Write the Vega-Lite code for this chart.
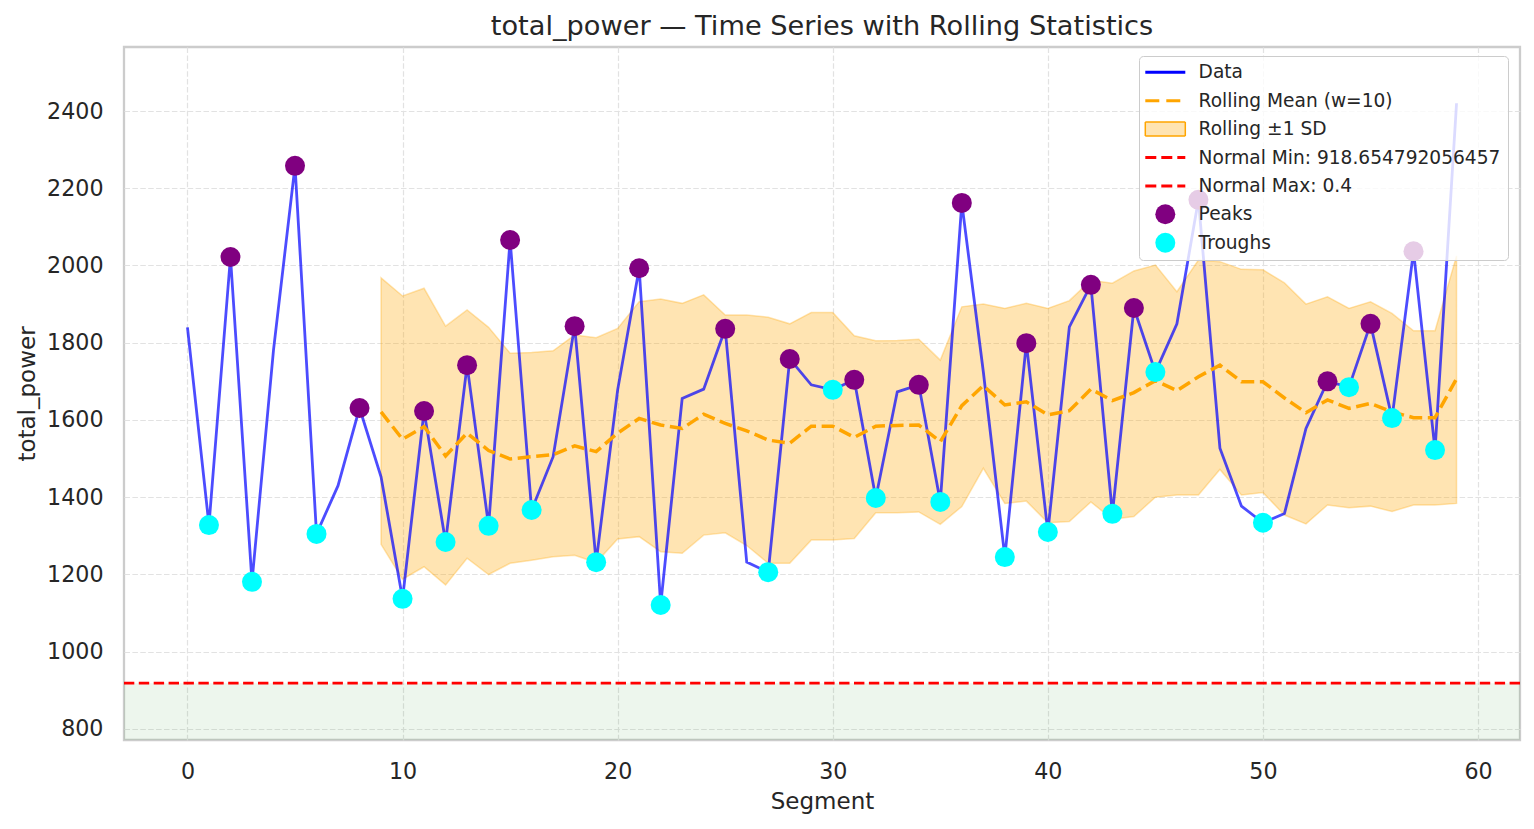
{
  "$schema": "https://vega.github.io/schema/vega-lite/v6.json",
  "autosize": {"type": "none"},
  "width": 1396,
  "height": 693,
  "padding": {"left": 124, "top": 47, "right": 14, "bottom": 89},
  "background": "white",
  "config": {
    "font": "DejaVu Sans",
    "view": {"stroke": "#cccccc", "strokeWidth": 2.3},
    "axis": {
      "domain": false,
      "ticks": false,
      "grid": true,
      "gridColor": "#e2e2e2",
      "gridDash": [5.5, 2.4],
      "gridWidth": 1.2,
      "labelColor": "#262626",
      "titleColor": "#262626",
      "labelFont": "DejaVu Sans",
      "titleFont": "DejaVu Sans",
      "labelFontSize": 22.2,
      "titleFontSize": 23,
      "titleFontWeight": "normal"
    },
    "legend": {
      "title": null,
      "orient": "none",
      "legendX": 1015,
      "legendY": 9,
      "fillColor": "rgba(255,255,255,0.8)",
      "strokeColor": "#cccccc",
      "cornerRadius": 4,
      "padding": 7,
      "labelFont": "DejaVu Sans",
      "labelFontSize": 18.6,
      "labelColor": "#262626",
      "labelLimit": 0,
      "symbolSize": 400,
      "symbolOffset": 10,
      "labelOffset": 24,
      "rowPadding": 7.4,
      "gridAlign": "all"
    }
  },
  "title": {
    "text": "total_power — Time Series with Rolling Statistics",
    "font": "DejaVu Sans",
    "fontSize": 27.2,
    "fontWeight": "normal",
    "color": "#262626",
    "anchor": "middle",
    "baseline": "alphabetic",
    "offset": 12.5,
    "dy": 27.5
  },
  "datasets": {
    "segments": [
      {"seg": 0, "total_power": 1840},
      {"seg": 1, "total_power": 1328, "kind": "Troughs"},
      {"seg": 2, "total_power": 2022, "kind": "Peaks"},
      {"seg": 3, "total_power": 1181, "kind": "Troughs"},
      {"seg": 4, "total_power": 1781},
      {"seg": 5, "total_power": 2258, "kind": "Peaks"},
      {"seg": 6, "total_power": 1305, "kind": "Troughs"},
      {"seg": 7, "total_power": 1430},
      {"seg": 8, "total_power": 1631, "kind": "Peaks"},
      {"seg": 9, "total_power": 1453, "roll_mean": 1621, "roll_lo": 1278, "roll_hi": 1968},
      {"seg": 10, "total_power": 1137, "kind": "Troughs", "roll_mean": 1550, "roll_lo": 1188, "roll_hi": 1921},
      {"seg": 11, "total_power": 1623, "kind": "Peaks", "roll_mean": 1583, "roll_lo": 1220, "roll_hi": 1941},
      {"seg": 12, "total_power": 1284, "kind": "Troughs", "roll_mean": 1507, "roll_lo": 1173, "roll_hi": 1843},
      {"seg": 13, "total_power": 1742, "kind": "Peaks", "roll_mean": 1566, "roll_lo": 1242, "roll_hi": 1885},
      {"seg": 14, "total_power": 1326, "kind": "Troughs", "roll_mean": 1521, "roll_lo": 1200, "roll_hi": 1840},
      {"seg": 15, "total_power": 2066, "kind": "Peaks", "roll_mean": 1499, "roll_lo": 1229, "roll_hi": 1773},
      {"seg": 16, "total_power": 1367, "kind": "Troughs", "roll_mean": 1505, "roll_lo": 1237, "roll_hi": 1775},
      {"seg": 17, "total_power": 1505, "roll_mean": 1510, "roll_lo": 1246, "roll_hi": 1779},
      {"seg": 18, "total_power": 1843, "kind": "Peaks", "roll_mean": 1533, "roll_lo": 1250, "roll_hi": 1820},
      {"seg": 19, "total_power": 1232, "kind": "Troughs", "roll_mean": 1518, "roll_lo": 1231, "roll_hi": 1813},
      {"seg": 20, "total_power": 1678, "roll_mean": 1566, "roll_lo": 1292, "roll_hi": 1837},
      {"seg": 21, "total_power": 1993, "kind": "Peaks", "roll_mean": 1604, "roll_lo": 1298, "roll_hi": 1906},
      {"seg": 22, "total_power": 1121, "kind": "Troughs", "roll_mean": 1587, "roll_lo": 1259, "roll_hi": 1913},
      {"seg": 23, "total_power": 1656, "roll_mean": 1578, "roll_lo": 1255, "roll_hi": 1902},
      {"seg": 24, "total_power": 1680, "roll_mean": 1615, "roll_lo": 1302, "roll_hi": 1924},
      {"seg": 25, "total_power": 1836, "kind": "Peaks", "roll_mean": 1591, "roll_lo": 1308, "roll_hi": 1872},
      {"seg": 26, "total_power": 1232, "roll_mean": 1572, "roll_lo": 1275, "roll_hi": 1872},
      {"seg": 27, "total_power": 1206, "kind": "Troughs", "roll_mean": 1548, "roll_lo": 1229, "roll_hi": 1866},
      {"seg": 28, "total_power": 1758, "kind": "Peaks", "roll_mean": 1540, "roll_lo": 1229, "roll_hi": 1849},
      {"seg": 29, "total_power": 1691, "roll_mean": 1584, "roll_lo": 1289, "roll_hi": 1878},
      {"seg": 30, "total_power": 1678, "kind": "Troughs", "roll_mean": 1584, "roll_lo": 1289, "roll_hi": 1878},
      {"seg": 31, "total_power": 1704, "kind": "Peaks", "roll_mean": 1555, "roll_lo": 1293, "roll_hi": 1818},
      {"seg": 32, "total_power": 1398, "kind": "Troughs", "roll_mean": 1584, "roll_lo": 1360, "roll_hi": 1805},
      {"seg": 33, "total_power": 1673, "roll_mean": 1586, "roll_lo": 1360, "roll_hi": 1806},
      {"seg": 34, "total_power": 1691, "kind": "Peaks", "roll_mean": 1587, "roll_lo": 1362, "roll_hi": 1809},
      {"seg": 35, "total_power": 1388, "kind": "Troughs", "roll_mean": 1544, "roll_lo": 1330, "roll_hi": 1755},
      {"seg": 36, "total_power": 2162, "kind": "Peaks", "roll_mean": 1637, "roll_lo": 1376, "roll_hi": 1893},
      {"seg": 37, "total_power": 1725, "roll_mean": 1689, "roll_lo": 1475, "roll_hi": 1900},
      {"seg": 38, "total_power": 1245, "kind": "Troughs", "roll_mean": 1639, "roll_lo": 1384, "roll_hi": 1889},
      {"seg": 39, "total_power": 1799, "kind": "Peaks", "roll_mean": 1647, "roll_lo": 1390, "roll_hi": 1902},
      {"seg": 40, "total_power": 1310, "kind": "Troughs", "roll_mean": 1613, "roll_lo": 1334, "roll_hi": 1889},
      {"seg": 41, "total_power": 1841, "roll_mean": 1624, "roll_lo": 1337, "roll_hi": 1909},
      {"seg": 42, "total_power": 1950, "kind": "Peaks", "roll_mean": 1680, "roll_lo": 1388, "roll_hi": 1962},
      {"seg": 43, "total_power": 1357, "kind": "Troughs", "roll_mean": 1650, "roll_lo": 1343, "roll_hi": 1954},
      {"seg": 44, "total_power": 1890, "kind": "Peaks", "roll_mean": 1671, "roll_lo": 1350, "roll_hi": 1986},
      {"seg": 45, "total_power": 1724, "kind": "Troughs", "roll_mean": 1702, "roll_lo": 1400, "roll_hi": 2001},
      {"seg": 46, "total_power": 1849, "roll_mean": 1676, "roll_lo": 1406, "roll_hi": 1932},
      {"seg": 47, "total_power": 2170, "kind": "Peaks", "roll_mean": 1712, "roll_lo": 1406, "roll_hi": 2014},
      {"seg": 48, "total_power": 1527, "roll_mean": 1742, "roll_lo": 1472, "roll_hi": 2010},
      {"seg": 49, "total_power": 1377, "roll_mean": 1699, "roll_lo": 1406, "roll_hi": 1990},
      {"seg": 50, "total_power": 1334, "kind": "Troughs", "roll_mean": 1699, "roll_lo": 1412, "roll_hi": 1989},
      {"seg": 51, "total_power": 1358, "roll_mean": 1657, "roll_lo": 1354, "roll_hi": 1955},
      {"seg": 52, "total_power": 1578, "roll_mean": 1619, "roll_lo": 1331, "roll_hi": 1900},
      {"seg": 53, "total_power": 1700, "kind": "Peaks", "roll_mean": 1652, "roll_lo": 1380, "roll_hi": 1919},
      {"seg": 54, "total_power": 1685, "kind": "Troughs", "roll_mean": 1630, "roll_lo": 1373, "roll_hi": 1889},
      {"seg": 55, "total_power": 1849, "kind": "Peaks", "roll_mean": 1643, "roll_lo": 1377, "roll_hi": 1906},
      {"seg": 56, "total_power": 1605, "kind": "Troughs", "roll_mean": 1621, "roll_lo": 1363, "roll_hi": 1876},
      {"seg": 57, "total_power": 2037, "kind": "Peaks", "roll_mean": 1606, "roll_lo": 1380, "roll_hi": 1831},
      {"seg": 58, "total_power": 1522, "kind": "Troughs", "roll_mean": 1606, "roll_lo": 1380, "roll_hi": 1831},
      {"seg": 59, "total_power": 2420, "roll_mean": 1707, "roll_lo": 1384, "roll_hi": 2025}
    ],
    "limits": [
      {"label": "Normal Min: 918.654792056457", "value": 918.654792056457},
      {"label": "Normal Max: 0.4", "value": 0.4}
    ],
    "normal_band": [
      {"lo": 0.4, "hi": 918.654792056457}
    ]
  },
  "layer": [
    {
      "data": {"name": "normal_band"},
      "mark": {"type": "rect", "color": "green", "opacity": 0.07, "clip": true},
      "encoding": {
        "y": {
          "field": "hi",
          "type": "quantitative",
          "title": "total_power",
          "scale": {"domain": [771.5, 2565.7], "nice": false, "zero": false},
          "axis": {
            "values": [800, 1000, 1200, 1400, 1600, 1800, 2000, 2200, 2400],
            "format": "d",
            "labelPadding": 21,
            "titleX": -90,
            "titleBaseline": "alphabetic"
          }
        },
        "y2": {"field": "lo"}
      }
    },
    {
      "data": {"name": "segments"},
      "transform": [{"filter": "isValid(datum.roll_hi)"}],
      "mark": {
        "type": "area",
        "fillOpacity": 0.3,
        "stroke": "#ffa500",
        "strokeOpacity": 0.3,
        "strokeWidth": 1.5
      },
      "encoding": {
        "x": {
          "field": "seg",
          "type": "quantitative",
          "title": "Segment",
          "scale": {"domain": [-2.95, 61.95], "nice": false, "zero": false},
          "axis": {
            "values": [0, 10, 20, 30, 40, 50, 60],
            "labelPadding": 20.5,
            "titleY": 68,
            "titleBaseline": "alphabetic"
          }
        },
        "y": {"field": "roll_hi", "type": "quantitative", "title": "total_power"},
        "y2": {"field": "roll_lo"},
        "color": {
          "datum": "Rolling ±1 SD",
          "type": "nominal",
          "title": null,
          "scale": {
            "domain": [
              "Data",
              "Rolling Mean (w=10)",
              "Rolling ±1 SD",
              "Normal Min: 918.654792056457",
              "Normal Max: 0.4",
              "Peaks",
              "Troughs"
            ],
            "range": ["#0000ff", "#ffa500", "#ffa500", "#ff0000", "#ff0000", "#800080", "#00ffff"]
          },
          "legend": {
            "title": null,
            "encode": {
              "symbols": {
                "update": {
                  "shape": {"signal": "datum.value === 'Peaks' || datum.value === 'Troughs' ? 'circle' : datum.value === 'Rolling ±1 SD' ? 'M-1,-0.35H1V0.35H-1Z' : 'stroke'"},
                  "size": {"signal": "datum.value === 'Peaks' || datum.value === 'Troughs' ? 400 : 1600"},
                  "fill": {"signal": "datum.value === 'Peaks' ? '#800080' : datum.value === 'Troughs' ? '#00ffff' : datum.value === 'Rolling ±1 SD' ? '#ffa500' : 'transparent'"},
                  "stroke": {"signal": "datum.value === 'Data' ? '#4d4dff' : datum.value === 'Rolling Mean (w=10)' ? '#ffa500' : datum.value === 'Rolling ±1 SD' ? '#ffd28a' : (datum.value === 'Peaks' || datum.value === 'Troughs') ? 'transparent' : '#ff0000'"},
                  "strokeDash": {"signal": "datum.value === 'Rolling Mean (w=10)' ? [14, 7] : indexof(datum.value, 'Normal') === 0 ? [11, 5] : [1, 0]"},
                  "strokeWidth": {"signal": "datum.value === 'Rolling ±1 SD' ? 1.5 : (datum.value === 'Peaks' || datum.value === 'Troughs') ? 0 : 3"},
                  "opacity": {"value": 1},
                  "fillOpacity": {"signal": "datum.value === 'Rolling ±1 SD' ? 0.3 : 1"},
                  "strokeOpacity": {"value": 1}
                }
              }
            }
          }
        }
      }
    },
    {
      "data": {"name": "segments"},
      "mark": {"type": "line", "strokeWidth": 2.8, "opacity": 0.7},
      "encoding": {
        "x": {"field": "seg", "type": "quantitative"},
        "y": {"field": "total_power", "type": "quantitative", "title": "total_power"},
        "color": {
          "datum": "Data",
          "type": "nominal",
          "title": null,
          "legend": {
            "title": null,
            "encode": {
              "symbols": {
                "update": {
                  "shape": {"signal": "datum.value === 'Peaks' || datum.value === 'Troughs' ? 'circle' : datum.value === 'Rolling ±1 SD' ? 'M-1,-0.35H1V0.35H-1Z' : 'stroke'"},
                  "size": {"signal": "datum.value === 'Peaks' || datum.value === 'Troughs' ? 400 : 1600"},
                  "fill": {"signal": "datum.value === 'Peaks' ? '#800080' : datum.value === 'Troughs' ? '#00ffff' : datum.value === 'Rolling ±1 SD' ? '#ffa500' : 'transparent'"},
                  "stroke": {"signal": "datum.value === 'Data' ? '#4d4dff' : datum.value === 'Rolling Mean (w=10)' ? '#ffa500' : datum.value === 'Rolling ±1 SD' ? '#ffd28a' : (datum.value === 'Peaks' || datum.value === 'Troughs') ? 'transparent' : '#ff0000'"},
                  "strokeDash": {"signal": "datum.value === 'Rolling Mean (w=10)' ? [14, 7] : indexof(datum.value, 'Normal') === 0 ? [11, 5] : [1, 0]"},
                  "strokeWidth": {"signal": "datum.value === 'Rolling ±1 SD' ? 1.5 : (datum.value === 'Peaks' || datum.value === 'Troughs') ? 0 : 3"},
                  "opacity": {"value": 1},
                  "fillOpacity": {"signal": "datum.value === 'Rolling ±1 SD' ? 0.3 : 1"},
                  "strokeOpacity": {"value": 1}
                }
              }
            }
          }
        }
      }
    },
    {
      "data": {"name": "segments"},
      "transform": [{"filter": "isValid(datum.roll_mean)"}],
      "mark": {"type": "line", "strokeWidth": 3.5, "strokeDash": [13, 5.6]},
      "encoding": {
        "x": {"field": "seg", "type": "quantitative"},
        "y": {"field": "roll_mean", "type": "quantitative", "title": "total_power"},
        "color": {
          "datum": "Rolling Mean (w=10)",
          "type": "nominal",
          "title": null,
          "legend": {
            "title": null,
            "encode": {
              "symbols": {
                "update": {
                  "shape": {"signal": "datum.value === 'Peaks' || datum.value === 'Troughs' ? 'circle' : datum.value === 'Rolling ±1 SD' ? 'M-1,-0.35H1V0.35H-1Z' : 'stroke'"},
                  "size": {"signal": "datum.value === 'Peaks' || datum.value === 'Troughs' ? 400 : 1600"},
                  "fill": {"signal": "datum.value === 'Peaks' ? '#800080' : datum.value === 'Troughs' ? '#00ffff' : datum.value === 'Rolling ±1 SD' ? '#ffa500' : 'transparent'"},
                  "stroke": {"signal": "datum.value === 'Data' ? '#4d4dff' : datum.value === 'Rolling Mean (w=10)' ? '#ffa500' : datum.value === 'Rolling ±1 SD' ? '#ffd28a' : (datum.value === 'Peaks' || datum.value === 'Troughs') ? 'transparent' : '#ff0000'"},
                  "strokeDash": {"signal": "datum.value === 'Rolling Mean (w=10)' ? [14, 7] : indexof(datum.value, 'Normal') === 0 ? [11, 5] : [1, 0]"},
                  "strokeWidth": {"signal": "datum.value === 'Rolling ±1 SD' ? 1.5 : (datum.value === 'Peaks' || datum.value === 'Troughs') ? 0 : 3"},
                  "opacity": {"value": 1},
                  "fillOpacity": {"signal": "datum.value === 'Rolling ±1 SD' ? 0.3 : 1"},
                  "strokeOpacity": {"value": 1}
                }
              }
            }
          }
        }
      }
    },
    {
      "data": {"name": "limits"},
      "mark": {"type": "rule", "strokeWidth": 2.8, "strokeDash": [10.4, 4.5], "clip": true},
      "encoding": {
        "y": {"field": "value", "type": "quantitative", "title": "total_power"},
        "color": {
          "field": "label",
          "type": "nominal",
          "title": null,
          "legend": {
            "title": null,
            "encode": {
              "symbols": {
                "update": {
                  "shape": {"signal": "datum.value === 'Peaks' || datum.value === 'Troughs' ? 'circle' : datum.value === 'Rolling ±1 SD' ? 'M-1,-0.35H1V0.35H-1Z' : 'stroke'"},
                  "size": {"signal": "datum.value === 'Peaks' || datum.value === 'Troughs' ? 400 : 1600"},
                  "fill": {"signal": "datum.value === 'Peaks' ? '#800080' : datum.value === 'Troughs' ? '#00ffff' : datum.value === 'Rolling ±1 SD' ? '#ffa500' : 'transparent'"},
                  "stroke": {"signal": "datum.value === 'Data' ? '#4d4dff' : datum.value === 'Rolling Mean (w=10)' ? '#ffa500' : datum.value === 'Rolling ±1 SD' ? '#ffd28a' : (datum.value === 'Peaks' || datum.value === 'Troughs') ? 'transparent' : '#ff0000'"},
                  "strokeDash": {"signal": "datum.value === 'Rolling Mean (w=10)' ? [14, 7] : indexof(datum.value, 'Normal') === 0 ? [11, 5] : [1, 0]"},
                  "strokeWidth": {"signal": "datum.value === 'Rolling ±1 SD' ? 1.5 : (datum.value === 'Peaks' || datum.value === 'Troughs') ? 0 : 3"},
                  "opacity": {"value": 1},
                  "fillOpacity": {"signal": "datum.value === 'Rolling ±1 SD' ? 0.3 : 1"},
                  "strokeOpacity": {"value": 1}
                }
              }
            }
          }
        }
      }
    },
    {
      "data": {"name": "segments"},
      "transform": [{"filter": "isValid(datum.kind)"}],
      "mark": {"type": "point", "filled": true, "size": 400, "opacity": 1, "strokeWidth": 0},
      "encoding": {
        "x": {"field": "seg", "type": "quantitative"},
        "y": {"field": "total_power", "type": "quantitative", "title": "total_power"},
        "color": {
          "field": "kind",
          "type": "nominal",
          "title": null,
          "legend": {
            "title": null,
            "encode": {
              "symbols": {
                "update": {
                  "shape": {"signal": "datum.value === 'Peaks' || datum.value === 'Troughs' ? 'circle' : datum.value === 'Rolling ±1 SD' ? 'M-1,-0.35H1V0.35H-1Z' : 'stroke'"},
                  "size": {"signal": "datum.value === 'Peaks' || datum.value === 'Troughs' ? 400 : 1600"},
                  "fill": {"signal": "datum.value === 'Peaks' ? '#800080' : datum.value === 'Troughs' ? '#00ffff' : datum.value === 'Rolling ±1 SD' ? '#ffa500' : 'transparent'"},
                  "stroke": {"signal": "datum.value === 'Data' ? '#4d4dff' : datum.value === 'Rolling Mean (w=10)' ? '#ffa500' : datum.value === 'Rolling ±1 SD' ? '#ffd28a' : (datum.value === 'Peaks' || datum.value === 'Troughs') ? 'transparent' : '#ff0000'"},
                  "strokeDash": {"signal": "datum.value === 'Rolling Mean (w=10)' ? [14, 7] : indexof(datum.value, 'Normal') === 0 ? [11, 5] : [1, 0]"},
                  "strokeWidth": {"signal": "datum.value === 'Rolling ±1 SD' ? 1.5 : (datum.value === 'Peaks' || datum.value === 'Troughs') ? 0 : 3"},
                  "opacity": {"value": 1},
                  "fillOpacity": {"signal": "datum.value === 'Rolling ±1 SD' ? 0.3 : 1"},
                  "strokeOpacity": {"value": 1}
                }
              }
            }
          }
        }
      }
    }
  ]
}
